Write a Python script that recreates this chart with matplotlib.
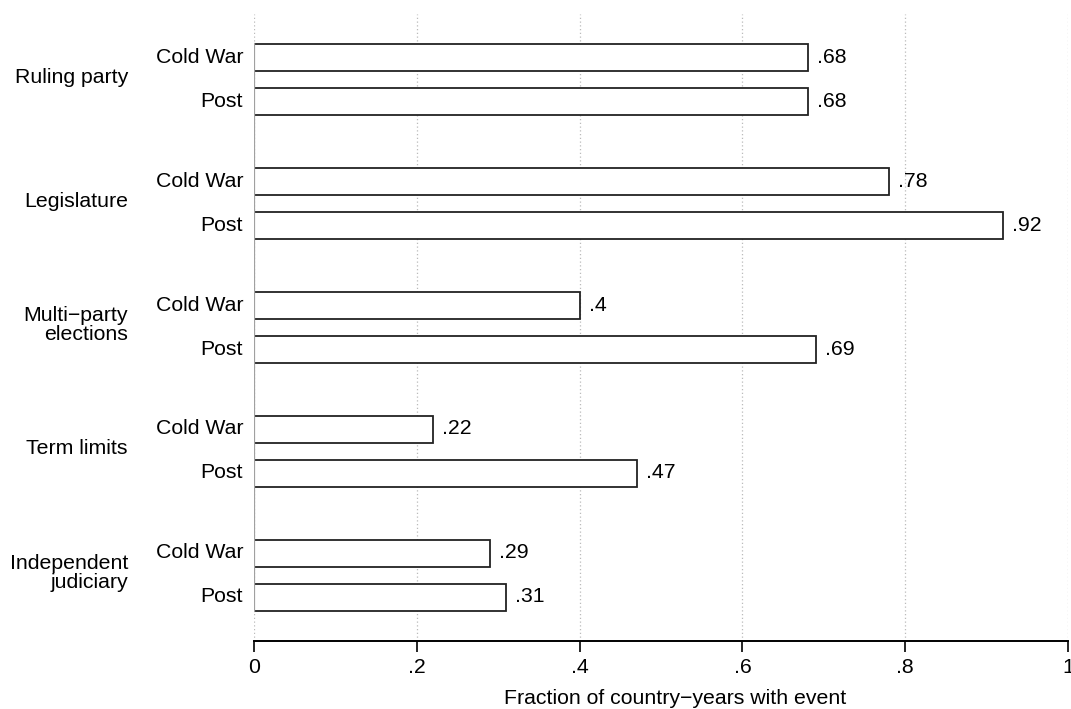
import matplotlib
matplotlib.use("Agg")
import matplotlib.pyplot as plt
import matplotlib.transforms as mtrans

plt.rcParams['font.family'] = ['Liberation Sans', 'DejaVu Sans']

groups = ["Ruling party", "Legislature", "Multi\u2212party\nelections", "Term limits", "Independent\njudiciary"]
periods = ["Cold War", "Post"]
cold_war = [0.68, 0.78, 0.40, 0.22, 0.29]
post = [0.68, 0.92, 0.69, 0.47, 0.31]
value_labels_cw = [".68", ".78", ".4", ".22", ".29"]
value_labels_post = [".68", ".92", ".69", ".47", ".31"]
xticks = [0, 0.2, 0.4, 0.6, 0.8, 1.0]
xticklabels = ["0", ".2", ".4", ".6", ".8", "1"]
xlabel = "Fraction of country\u2212years with event"

W, H = 1071, 709
fig = plt.figure(figsize=(W / 100, H / 100), dpi=100)
left, right, top, bottom = 254, 1068, 14, 641
ax = fig.add_axes([left / W, (H - bottom) / H, (right - left) / W, (bottom - top) / H])
ax.set_xlim(0, 1)
ax.set_ylim(bottom, top)

fs = 15.3
gstep, cw_off, post_off, bh = 124, 57, 101, 27
pix_y = mtrans.blended_transform_factory(mtrans.IdentityTransform(), ax.transData)
for i, g in enumerate(groups):
    y1 = cw_off + gstep * i
    y2 = post_off + gstep * i
    for y, v, lab in ((y1, cold_war[i], value_labels_cw[i]), (y2, post[i], value_labels_post[i])):
        ax.barh(y, v, height=bh, left=0, color="white", edgecolor="#222222", linewidth=1.3, zorder=3)
        ax.annotate(lab, (v, y), xytext=(9, 0), textcoords="offset pixels",
                    ha="left", va="center", fontsize=fs, zorder=4)
    ax.text(243, y1, periods[0], transform=pix_y, ha="right", va="center", fontsize=fs)
    ax.text(243, y2, periods[1], transform=pix_y, ha="right", va="center", fontsize=fs)
    ax.text(128, (y1 + y2) / 2 - 2, g, transform=pix_y,
            ha="right", va="center", fontsize=fs, linespacing=1.05, multialignment="right")

# baseline
ax.plot([0, 0], [cw_off - bh / 2, post_off + gstep * 4 + bh / 2], color="#a0a0a0", lw=1.6, zorder=5)

for x in xticks:
    ax.axvline(x, color="#bbbbbb", lw=0.9, ls=(0, (1, 2)), zorder=1)

for s in ["top", "right", "left"]:
    ax.spines[s].set_visible(False)
ax.spines["bottom"].set_linewidth(1.4)
ax.set_yticks([])
ax.set_xticks(xticks)
ax.set_xticklabels(xticklabels, fontsize=fs)
ax.tick_params(axis="x", length=8, width=1.2, pad=4)
fig.text(675 / W, 1 - 698 / H, xlabel, ha="center", va="center", fontsize=fs)

fig.savefig("out.png", dpi=100, facecolor="white")
